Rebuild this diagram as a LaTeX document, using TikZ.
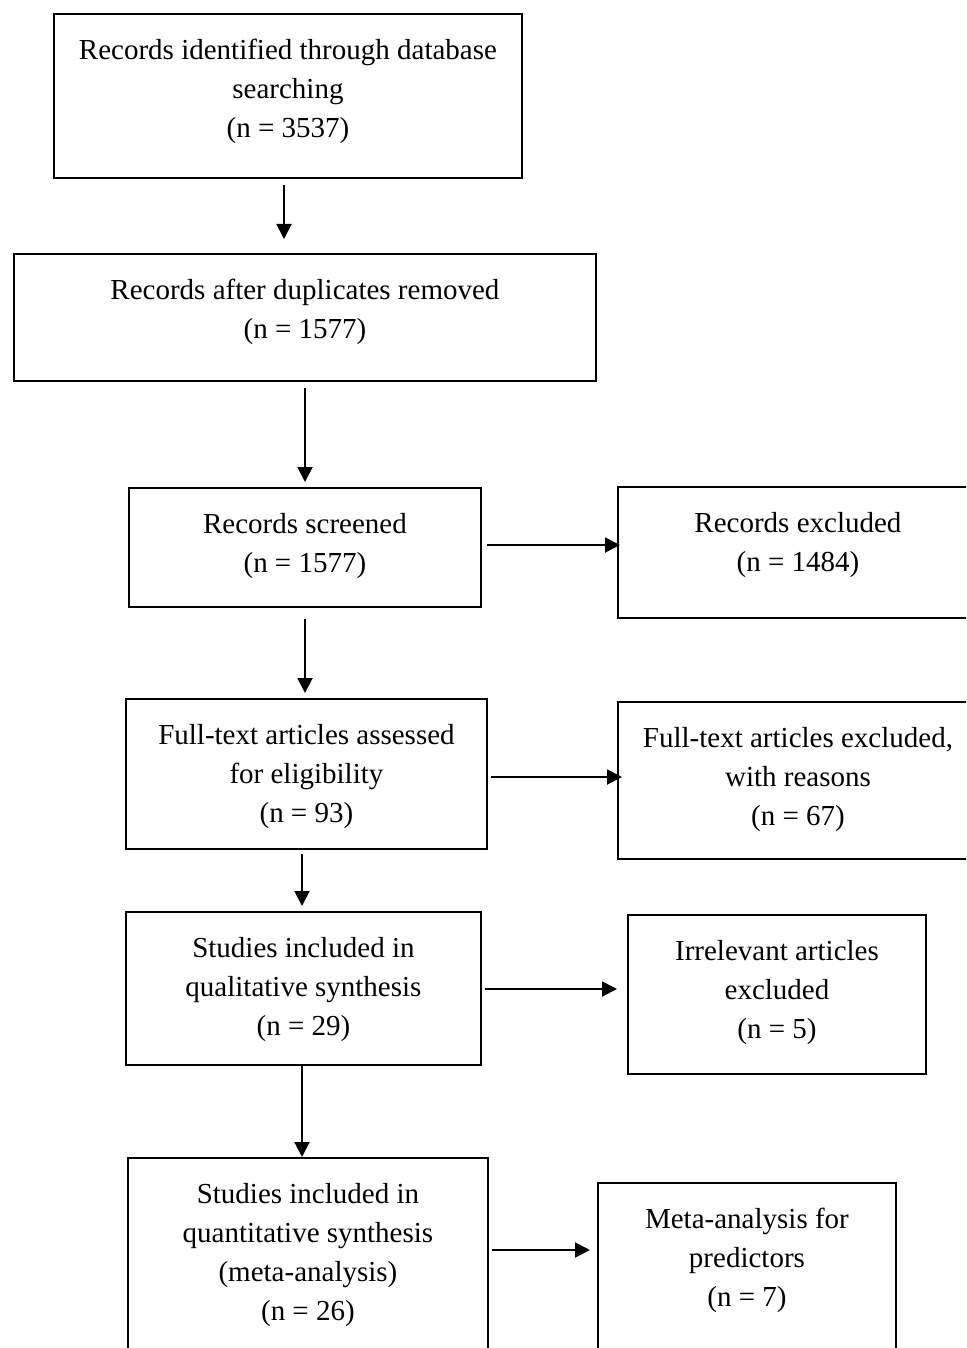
\documentclass[tikz,border=0pt]{standalone}
\usepackage{fontspec}
\setmainfont{Liberation Serif}
\usetikzlibrary{arrows.meta}
\tikzset{
  box/.style={draw=black, line width=1.9pt, rectangle, inner sep=0pt, anchor=north west},
  txt/.style={anchor=north, inner sep=0pt, align=center, yshift=-18.7pt,
              font=\fontsize{29}{39}\selectfont},
  arr/.style={line width=1.9pt, -{Triangle[length=15pt,width=15pt]}}
}
\begin{document}
\begin{tikzpicture}[x=1pt,y=-1pt]
\useasboundingbox (0,0) rectangle (966,1348);
\clip (0,0) rectangle (966,1348);
% boxes
\node[box, minimum width=468pt, minimum height=164pt] (b1) at (53,13) {};
\node[box, minimum width=582pt, minimum height=127pt] (b2) at (13,253) {};
\node[box, minimum width=352pt, minimum height=119pt] (b3) at (128,487) {};
\node[box, minimum width=360pt, minimum height=131pt] (b4) at (617,486) {};
\node[box, minimum width=361pt, minimum height=150pt] (b5) at (125,698) {};
\node[box, minimum width=360pt, minimum height=157pt] (b6) at (617,701) {};
\node[box, minimum width=355pt, minimum height=153pt] (b7) at (125,911) {};
\node[box, minimum width=298pt, minimum height=159pt] (b8) at (627,914) {};
\node[box, minimum width=360pt, minimum height=243pt] (b9) at (127,1157) {};
\node[box, minimum width=298pt, minimum height=218pt] (b10) at (597,1182) {};
% texts
\node[txt] (t1) at (b1.north) {\strut Records identified through database\\searching\\(n = 3537)};
\node[txt] (t2) at (b2.north) {\strut Records after duplicates removed\\(n = 1577)};
\node[txt] (t3) at (b3.north) {\strut Records screened\\(n = 1577)};
\node[txt] (t4) at (b4.north) {\strut Records excluded\\(n = 1484)};
\node[txt] (t5) at (b5.north) {\strut Full-text articles assessed\\for eligibility\\(n = 93)};
\node[txt] (t6) at (b6.north) {\strut Full-text articles excluded,\\with reasons\\(n = 67)};
\node[txt] (t7) at (b7.north) {\strut Studies included in\\qualitative synthesis\\(n = 29)};
\node[txt] (t8) at (b8.north) {\strut Irrelevant articles\\excluded\\(n = 5)};
\node[txt] (t9) at (b9.north) {\strut Studies included in\\quantitative synthesis\\(meta-analysis)\\(n = 26)};
\node[txt] (t10) at (b10.north) {\strut Meta-analysis for\\predictors\\(n = 7)};
% connector guide coordinates
\coordinate (v1) at (284,0);
\coordinate (v2) at (305,0);
\coordinate (v3) at (305,0);
\coordinate (v4) at (302,0);
\coordinate (v5) at (302,0);
\coordinate (h1) at (0,545);
\coordinate (h2) at (0,777);
\coordinate (h3) at (0,989);
\coordinate (h4) at (0,1250);
% vertical arrows
\draw[arr, shorten <=6pt, shorten >=14pt] (b1.south -| v1) -- (b2.north -| v1);
\draw[arr, shorten <=6pt, shorten >=5pt] (b2.south -| v2) -- (b3.north -| v2);
\draw[arr, shorten <=11pt, shorten >=5pt] (b3.south -| v3) -- (b5.north -| v3);
\draw[arr, shorten <=4pt, shorten >=5pt] (b5.south -| v4) -- (b7.north -| v4);
\draw[arr] (b7.south -| v5) -- (b9.north -| v5);
% horizontal arrows
\draw[arr, shorten <=5pt, shorten >=-3pt] (b3.east |- h1) -- (b4.west |- h1);
\draw[arr, shorten <=3pt, shorten >=-5pt] (b5.east |- h2) -- (b6.west |- h2);
\draw[arr, shorten <=3pt, shorten >=10pt] (b7.east |- h3) -- (b8.west |- h3);
\draw[arr, shorten <=3pt, shorten >=7pt] (b9.east |- h4) -- (b10.west |- h4);
\end{tikzpicture}
\end{document}
